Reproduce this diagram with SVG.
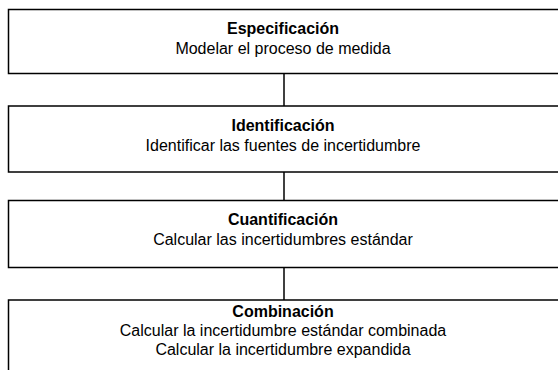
<svg xmlns="http://www.w3.org/2000/svg" width="558" height="370" viewBox="0 0 558 370">
<style>
.box{fill:#ffffff;stroke:#000000;stroke-width:1.5}
.t{font-family:"Liberation Sans",Arial,sans-serif;font-size:16px;fill:#000;text-anchor:middle}
.b{font-weight:bold}
.c{stroke:#000;stroke-width:1.5;fill:none}
</style>
<rect width="558" height="370" fill="#ffffff"/>
<g id="connectors">
<line class="c" x1="284" y1="74" x2="284" y2="106"/>
<line class="c" x1="284" y1="172" x2="284" y2="200"/>
<line class="c" x1="284" y1="267" x2="284" y2="300"/>
</g>
<g id="especificacion">
<rect class="box" x="8.5" y="9.5" width="560" height="64"/>
<text class="t b" x="283" y="34">Especificación</text>
<text class="t" x="283" y="54">Modelar el proceso de medida</text>
</g>
<g id="identificacion">
<rect class="box" x="8.5" y="106" width="560" height="66"/>
<text class="t b" x="283" y="131">Identificación</text>
<text class="t" x="283" y="151">Identificar las fuentes de incertidumbre</text>
</g>
<g id="cuantificacion">
<rect class="box" x="8.5" y="200.5" width="560" height="67"/>
<text class="t b" x="283" y="225">Cuantificación</text>
<text class="t" x="283" y="245">Calcular las incertidumbres estándar</text>
</g>
<g id="combinacion">
<rect class="box" x="8.5" y="300" width="560" height="80"/>
<text class="t b" x="283" y="317">Combinación</text>
<text class="t" x="283" y="336">Calcular la incertidumbre estándar combinada</text>
<text class="t" x="283" y="355">Calcular la incertidumbre expandida</text>
</g>
</svg>
